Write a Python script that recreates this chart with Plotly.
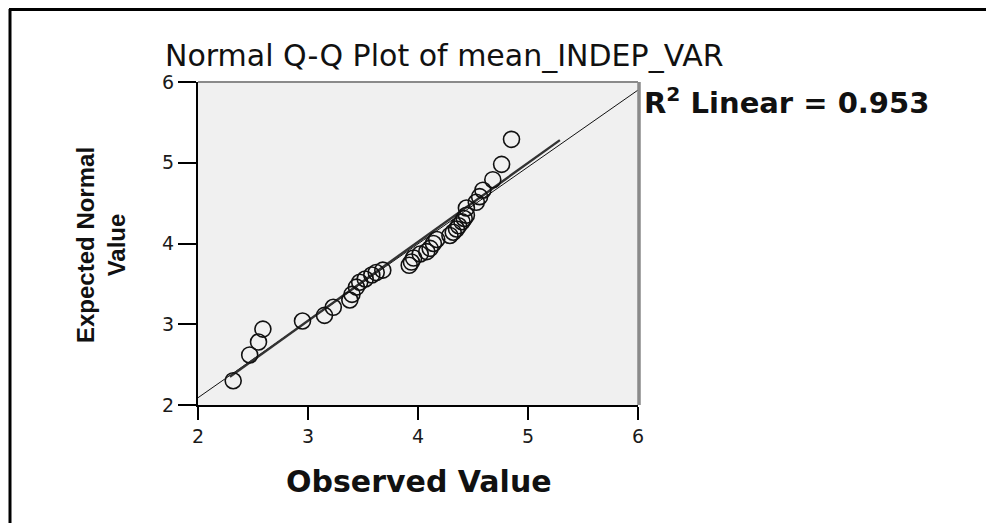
import plotly.graph_objects as go

# ---- data ----
observed = [2.32, 2.47, 2.55, 2.59, 2.95, 3.15, 3.23, 3.38, 3.40, 3.44, 3.47, 3.52,
            3.58, 3.62, 3.68, 3.92, 3.94, 3.96, 4.02, 4.08, 4.11, 4.14, 4.17, 4.29,
            4.32, 4.35, 4.37, 4.40, 4.42, 4.44, 4.44, 4.53, 4.56, 4.59, 4.68, 4.76, 4.85]
expected = [2.30, 2.62, 2.78, 2.94, 3.04, 3.11, 3.21, 3.30, 3.37, 3.46, 3.52, 3.56,
            3.61, 3.64, 3.67, 3.73, 3.77, 3.82, 3.87, 3.90, 3.94, 4.00, 4.05, 4.10,
            4.14, 4.18, 4.22, 4.27, 4.31, 4.35, 4.44, 4.51, 4.58, 4.66, 4.79, 4.98, 5.29]
ref_line_x = [2, 6]
ref_line_y = [2.09, 5.90]
fit_line_x = [2.29, 5.29]
fit_line_y = [2.35, 5.28]
tick_vals = [2, 3, 4, 5, 6]
title_text = "Normal Q-Q Plot of mean_INDEP_VAR"
r2_text = "R<sup>2</sup> Linear = 0.953"
x_title = "Observed Value"
y_title = "Expected Normal<br>Value"

OFF = 8  # page body margin
W, H = 994 - OFF, 523 - OFF
L, R, T, B = 198 - OFF, 638 - OFF, 82 - OFF, 405 - OFF


def px(x):
    # screen x pixel -> paper coordinate
    return (x - OFF - L) / (R - L)


def py(y):
    # screen y pixel -> paper coordinate
    return (B - (y - OFF)) / (B - T)


fig = go.Figure()
fig.add_trace(go.Scatter(x=ref_line_x, y=ref_line_y, mode="lines",
                         line=dict(color="#111111", width=1), hoverinfo="skip"))
fig.add_trace(go.Scatter(x=fit_line_x, y=fit_line_y, mode="lines",
                         line=dict(color="#333333", width=2.4), hoverinfo="skip"))
fig.add_trace(go.Scatter(x=observed, y=expected, mode="markers",
                         marker=dict(symbol="circle-open", size=16,
                                     line=dict(color="#111111", width=1.6),
                                     color="#111111")))

tickfont = dict(family="DejaVu Sans, Arial, sans-serif", size=19, color="#1a1a1a")
fig.update_xaxes(range=[2, 6], tickvals=tick_vals, showgrid=False, zeroline=False,
                 showline=True, linecolor="black", linewidth=2,
                 ticks="outside", ticklen=13, tickwidth=2, tickcolor="black",
                 tickfont=tickfont)
fig.update_yaxes(range=[2, 6], tickvals=tick_vals, showgrid=False, zeroline=False,
                 showline=True, linecolor="black", linewidth=2,
                 ticks="outside", ticklen=18, tickwidth=2, tickcolor="black",
                 tickfont=tickfont)

shapes = [
    # plot frame top/right (gray)
    dict(type="line", xref="paper", yref="paper", x0=0, x1=1, y0=1, y1=1,
         line=dict(color="#8a8a8a", width=2)),
    dict(type="line", xref="paper", yref="paper", x0=px(639), x1=px(639), y0=0, y1=1,
         line=dict(color="#8a8a8a", width=3.5)),
    # outer image frame
    dict(type="line", xref="paper", yref="paper", x0=px(10), x1=px(10), y0=py(9), y1=py(530),
         line=dict(color="black", width=3)),
    dict(type="line", xref="paper", yref="paper", x0=px(9), x1=px(1000), y0=py(9.5), y1=py(9.5),
         line=dict(color="black", width=3)),
]

annotations = [
    dict(text=title_text, xref="paper", yref="paper", x=px(444), y=py(56),
         xanchor="center", yanchor="middle", showarrow=False,
         font=dict(family="DejaVu Sans, Arial, sans-serif", size=30, color="#111111")),
    dict(text=r2_text, xref="paper", yref="paper", x=px(642), y=py(101),
         xanchor="left", yanchor="middle", showarrow=False,
         font=dict(family="DejaVu Sans, Arial, sans-serif", size=29, color="#111111",
                   weight="bold")),
    dict(text=x_title, xref="paper", yref="paper", x=px(419), y=py(481),
         xanchor="center", yanchor="middle", showarrow=False,
         font=dict(family="DejaVu Sans, Arial, sans-serif", size=30, color="#111111",
                   weight="bold")),
    dict(text=y_title, xref="paper", yref="paper", x=px(101), y=py(245),
         xanchor="center", yanchor="middle", showarrow=False, textangle=-90,
         font=dict(family="Liberation Sans, Arial, sans-serif", size=24, color="#111111",
                   weight="bold")),
]

fig.update_layout(width=W, height=H, margin=dict(l=L, r=W - R, t=T, b=H - B),
                  paper_bgcolor="white", plot_bgcolor="#f0f0f0",
                  showlegend=False, shapes=shapes, annotations=annotations)

fig.write_html("out.html")
